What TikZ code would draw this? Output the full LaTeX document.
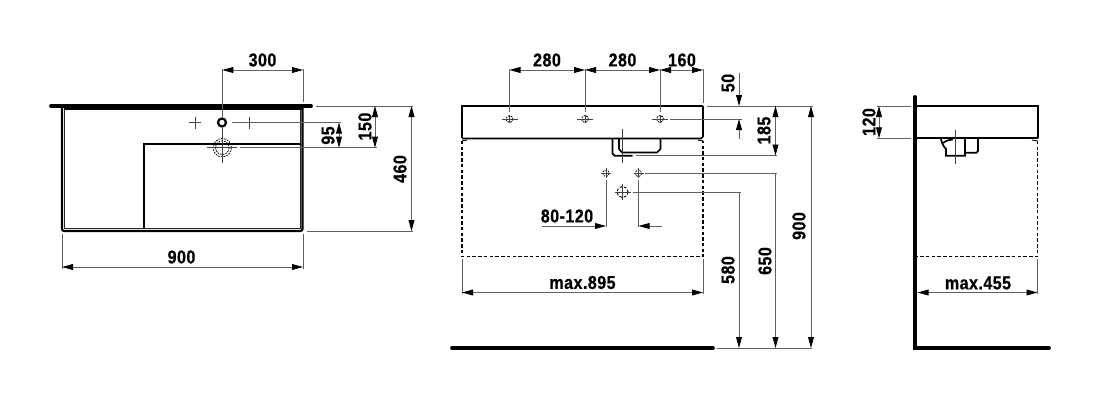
\documentclass[tikz,border=0pt]{standalone}
\usepackage{fontspec}
\newfontfamily\dimfont[FakeStretch=0.86,FakeBold=0.6,LetterSpace=2.5]{Liberation Sans}
\usepackage{tikz}
\usetikzlibrary{arrows.meta}
\tikzset{
  dimline/.style={draw=black!62, line width=0.6pt, >={Triangle[black,length=8.25pt,width=4.4pt]}},
  extline/.style={draw=black!62, line width=0.55pt},
  hairline/.style={draw=black!75, line width=0.4pt},
  dimtext/.style={font=\dimfont\bfseries\fontsize{14}{15}\selectfont, inner sep=0pt},
  heavy/.style={line width=2.9pt, line cap=round},
  outline/.style={line width=1.3pt},
  hidden/.style={line width=0.85pt, dash pattern=on 2.6pt off 1.7pt},
  holedash/.style={line width=0.6pt, dash pattern=on 1.3pt off 0.8pt}
}
\begin{document}
\begin{tikzpicture}[x=0.75pt, y=-0.75pt]
\useasboundingbox (0,0) rectangle (1100,400);
% top view
\draw[heavy] (51,106) -- (311,106);
\draw[line width=1.8pt] (64,109) -- (303,109);
\draw[line width=1.6pt, rounded corners=1.5pt] (62,107) -- (62,231) -- (302.5,231) -- (302.5,107);
\draw[line width=1pt, draw=black!85] (64.5,109) -- (64.5,228.5) -- (300.5,228.5) -- (300.5,109);
\draw[outline] (301,143.7) -- (144,143.7) -- (144,229);
\draw[line width=1.7pt] (222,122.5) circle (4);
\foreach \x in {195,249} {\draw[hairline] (\x-6,122.5) -- (\x+6,122.5) (\x,116.5) -- (\x,128.5);}
\draw[holedash] (222.3,147.7) circle (9.2);
\draw[holedash] (222.3,147.7) circle (6.8);
\draw[hairline] (207,147.7) -- (237,147.7) (222.3,128) -- (222.3,163);
% dimensions of the top view
\draw[extline] (222.3,69) -- (222.3,117);
\draw[extline] (303,69) -- (303,102);
\draw[dimline, <->] (222.3,70) -- (303,70);
\node[dimtext] (top300) at (262.5,60) {300};
\draw[extline] (232,122.5) -- (341,122.5);
\draw[extline] (240,147.7) -- (377,147.7);
\draw[dimline, <->] (339,122.5) -- (339,147.7);
\node[dimtext, rotate=90] (top95) at (328,135.5) {95};
\draw[extline] (316,106) -- (413,106);
\draw[dimline, <->] (375,106) -- (375,147.7);
\node[dimtext, rotate=90] (top150) at (365,126.5) {150};
\draw[extline] (307,231) -- (413,231);
\draw[dimline, <->] (411.5,106) -- (411.5,231);
\node[dimtext, rotate=90] (top460) at (400,169) {460};
\draw[extline] (62,234) -- (62,269);
\draw[extline] (303,234) -- (303,269);
\draw[dimline, <->] (62,267) -- (303,267);
\node[dimtext] (top900) at (181.5,257) {900};
% front view
\draw[line width=0.8pt] (462,138) -- (462,106) -- (600,106);
\draw[line width=1pt] (600,106) -- (703,106);
\draw[outline] (703,106) -- (703,136.5) -- (701,138.5) -- (462,138.5);
\draw[hidden] (462,141) -- (462,256.7) -- (703,256.7) -- (703,141);
\draw[line width=0.7pt] (462,141) -- (467,140);
\draw[line width=0.7pt] (703,141) -- (698,140);
\foreach \x in {509.5,585,660} {
  \draw[holedash] (\x,119) circle (3.4);
  \draw[hairline] (\x-8,119) -- (\x+8,119);
  \draw[extline] (\x,69) -- (\x,112);
  \draw[hairline] (\x,115) -- (\x,123);
}
\draw[outline] (612.5,138.5) -- (612.5,153.5) -- (614.5,155.7) -- (632.7,155.7);
\draw[outline] (619,138.5) -- (619,149) -- (622,152.5) -- (657,152.5) -- (660.5,149) -- (660.5,138.5);
\draw[hairline] (622.3,129) -- (622.3,163);
\foreach \x in {606,638.5} {
  \draw[holedash] (\x,173.3) circle (3.2);
  \draw[hairline] (\x-5,173.3) -- (\x+5,173.3) (\x,168.3) -- (\x,178.3);
  \draw[extline] (\x,180) -- (\x,227);
}
\draw[holedash, line width=0.7pt, dash pattern=on 2pt off 1.4pt] (622.5,192) circle (5.6);
\draw[hairline] (614.5,192) -- (630.5,192) (622.5,184) -- (622.5,200);
% dimensions of the front view
\draw[extline] (703,69) -- (703,103);
\draw[dimline, <->] (509.5,70) -- (585,70);
\draw[dimline, <->] (585,70) -- (660,70);
\draw[dimline, <->] (660,70) -- (703,70);
\node[dimtext] (front280a) at (547,60) {280};
\node[dimtext] (front280b) at (622.5,60) {280};
\node[dimtext] (front160) at (682,60) {160};
\draw[extline] (707,106) -- (813,106);
\draw[extline] (670,119) -- (742,119);
\draw[dimline, ->] (739,73) -- (739,106);
\draw[dimline, ->] (739,139) -- (739,119);
\node[dimtext, rotate=90] (front50) at (728,83) {50};
\draw[extline] (636,155.5) -- (777,155.5);
\draw[dimline, <->] (775.5,106) -- (775.5,155.5);
\node[dimtext, rotate=90] (front185) at (764,130.5) {185};
\draw[extline] (645,173.3) -- (777,173.3);
\draw[extline] (633,192) -- (741,192);
\draw[dimline, ->] (739,192) -- (739,348);
\draw[dimline, ->] (775.5,173.3) -- (775.5,348);
\draw[dimline, <->] (811,106) -- (811,348);
\node[dimtext, rotate=90] (front580) at (728,270) {580};
\node[dimtext, rotate=90] (front650) at (765,261) {650};
\node[dimtext, rotate=90] (front900) at (799,226) {900};
\draw[dimline, ->] (542,226) -- (606,226);
\draw[dimline, ->] (662,226) -- (638.5,226);
\node[dimtext] (frontgap) at (567,216) {80-120};
\draw[extline] (462,259) -- (462,294);
\draw[extline] (703,259) -- (703,294);
\draw[dimline, <->] (462,292.5) -- (703,292.5);
\node[dimtext] (frontmax) at (582.5,282.5) {max.895};
\draw[extline] (717,348) -- (812,348);
\draw[heavy] (452,348) -- (713,348);
% side view
\draw[heavy] (915,97) -- (915,348) -- (1049,348);
\draw[line width=0.9pt] (917,106) -- (1038,106) -- (1038,138.3);
\draw[outline] (917,138.3) -- (1038,138.3);
\draw[hidden] (1037.5,141) -- (1037.5,256.5) -- (917,256.5);
\draw[line width=0.7pt] (1037.5,141) -- (1032,140);
\draw[outline] (941,139) .. controls (942,144) and (944,147) .. (946,149) -- (946,155.7) -- (965,155.7) -- (965,138.3);
\draw[outline] (965,152.7) -- (976.5,152.7) -- (978,151) -- (978,138.3);
\draw[outline] (943,143) .. controls (946,140.5) and (949,140) .. (953,139.5);
\draw[hairline] (955.7,130) -- (955.7,164);
% dimensions of the side view
\draw[extline] (877,106) -- (911,106);
\draw[extline] (877,138.3) -- (911,138.3);
\draw[dimline, <->] (879,106) -- (879,138.3);
\node[dimtext, rotate=90] (side120) at (869,122) {120};
\draw[extline] (1037.5,259) -- (1037.5,294);
\draw[dimline, <->] (917.5,292.5) -- (1037.5,292.5);
\node[dimtext] (sidemax) at (978,283) {max.455};
\end{tikzpicture}
\end{document}
